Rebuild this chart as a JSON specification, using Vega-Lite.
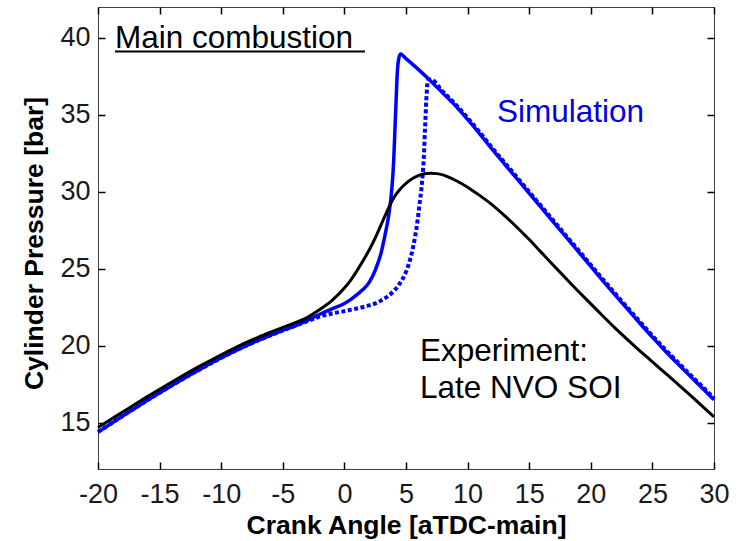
{
  "$schema": "https://vega.github.io/schema/vega-lite/v6.json",
  "width": 616,
  "height": 462,
  "autosize": "none",
  "padding": {"left": 98, "top": 7, "right": 27, "bottom": 72},
  "background": "white",
  "config": {
    "view": {"stroke": "#404040", "strokeWidth": 1},
    "font": "Liberation Sans",
    "axis": {"grid": false, "domain": false, "labelFlush": false, "labelOverlap": false, "labelFont": "Liberation Sans", "labelFontSize": 27, "labelColor": "#1a1a1a", "titleFont": "Liberation Sans", "titleFontSize": 26.5, "titleFontWeight": "bold", "titleColor": "#000000"}
  },
  "data": {
    "values": [
      {"angle": -20, "pressure": 14.7, "series": "experiment"},
      {"angle": -19, "pressure": 15.2, "series": "experiment"},
      {"angle": -18, "pressure": 15.7, "series": "experiment"},
      {"angle": -17, "pressure": 16.2, "series": "experiment"},
      {"angle": -16, "pressure": 16.7, "series": "experiment"},
      {"angle": -15, "pressure": 17.18, "series": "experiment"},
      {"angle": -14, "pressure": 17.65, "series": "experiment"},
      {"angle": -13, "pressure": 18.12, "series": "experiment"},
      {"angle": -12, "pressure": 18.57, "series": "experiment"},
      {"angle": -11, "pressure": 19.0, "series": "experiment"},
      {"angle": -10, "pressure": 19.42, "series": "experiment"},
      {"angle": -9, "pressure": 19.82, "series": "experiment"},
      {"angle": -8, "pressure": 20.2, "series": "experiment"},
      {"angle": -7, "pressure": 20.55, "series": "experiment"},
      {"angle": -6, "pressure": 20.88, "series": "experiment"},
      {"angle": -5, "pressure": 21.2, "series": "experiment"},
      {"angle": -4, "pressure": 21.5, "series": "experiment"},
      {"angle": -3, "pressure": 21.85, "series": "experiment"},
      {"angle": -2, "pressure": 22.35, "series": "experiment"},
      {"angle": -1, "pressure": 22.95, "series": "experiment"},
      {"angle": 0, "pressure": 23.75, "series": "experiment"},
      {"angle": 0.5, "pressure": 24.25, "series": "experiment"},
      {"angle": 1, "pressure": 24.85, "series": "experiment"},
      {"angle": 1.5, "pressure": 25.5, "series": "experiment"},
      {"angle": 2, "pressure": 26.2, "series": "experiment"},
      {"angle": 2.5, "pressure": 27.0, "series": "experiment"},
      {"angle": 3, "pressure": 27.9, "series": "experiment"},
      {"angle": 3.5, "pressure": 28.8, "series": "experiment"},
      {"angle": 4, "pressure": 29.6, "series": "experiment"},
      {"angle": 4.5, "pressure": 30.15, "series": "experiment"},
      {"angle": 5, "pressure": 30.55, "series": "experiment"},
      {"angle": 5.5, "pressure": 30.85, "series": "experiment"},
      {"angle": 6, "pressure": 31.05, "series": "experiment"},
      {"angle": 6.5, "pressure": 31.17, "series": "experiment"},
      {"angle": 7, "pressure": 31.2, "series": "experiment"},
      {"angle": 7.5, "pressure": 31.18, "series": "experiment"},
      {"angle": 8, "pressure": 31.1, "series": "experiment"},
      {"angle": 9, "pressure": 30.75, "series": "experiment"},
      {"angle": 10, "pressure": 30.3, "series": "experiment"},
      {"angle": 11, "pressure": 29.75, "series": "experiment"},
      {"angle": 12, "pressure": 29.15, "series": "experiment"},
      {"angle": 13, "pressure": 28.45, "series": "experiment"},
      {"angle": 14, "pressure": 27.7, "series": "experiment"},
      {"angle": 15, "pressure": 26.9, "series": "experiment"},
      {"angle": 16, "pressure": 26.05, "series": "experiment"},
      {"angle": 17, "pressure": 25.2, "series": "experiment"},
      {"angle": 18, "pressure": 24.36, "series": "experiment"},
      {"angle": 19, "pressure": 23.53, "series": "experiment"},
      {"angle": 20, "pressure": 22.72, "series": "experiment"},
      {"angle": 21, "pressure": 21.92, "series": "experiment"},
      {"angle": 22, "pressure": 21.13, "series": "experiment"},
      {"angle": 23, "pressure": 20.38, "series": "experiment"},
      {"angle": 24, "pressure": 19.66, "series": "experiment"},
      {"angle": 25, "pressure": 18.96, "series": "experiment"},
      {"angle": 26, "pressure": 18.26, "series": "experiment"},
      {"angle": 27, "pressure": 17.56, "series": "experiment"},
      {"angle": 28, "pressure": 16.85, "series": "experiment"},
      {"angle": 29, "pressure": 16.12, "series": "experiment"},
      {"angle": 30, "pressure": 15.38, "series": "experiment"},

      {"angle": -20, "pressure": 14.4, "series": "simulation_solid"},
      {"angle": -19, "pressure": 14.92, "series": "simulation_solid"},
      {"angle": -18, "pressure": 15.44, "series": "simulation_solid"},
      {"angle": -17, "pressure": 15.95, "series": "simulation_solid"},
      {"angle": -16, "pressure": 16.46, "series": "simulation_solid"},
      {"angle": -15, "pressure": 16.95, "series": "simulation_solid"},
      {"angle": -14, "pressure": 17.43, "series": "simulation_solid"},
      {"angle": -13, "pressure": 17.9, "series": "simulation_solid"},
      {"angle": -12, "pressure": 18.35, "series": "simulation_solid"},
      {"angle": -11, "pressure": 18.8, "series": "simulation_solid"},
      {"angle": -10, "pressure": 19.22, "series": "simulation_solid"},
      {"angle": -9, "pressure": 19.62, "series": "simulation_solid"},
      {"angle": -8, "pressure": 20.0, "series": "simulation_solid"},
      {"angle": -7, "pressure": 20.35, "series": "simulation_solid"},
      {"angle": -6, "pressure": 20.68, "series": "simulation_solid"},
      {"angle": -5, "pressure": 21.0, "series": "simulation_solid"},
      {"angle": -4, "pressure": 21.3, "series": "simulation_solid"},
      {"angle": -3, "pressure": 21.65, "series": "simulation_solid"},
      {"angle": -2, "pressure": 22.05, "series": "simulation_solid"},
      {"angle": -1, "pressure": 22.4, "series": "simulation_solid"},
      {"angle": 0, "pressure": 22.75, "series": "simulation_solid"},
      {"angle": 0.5, "pressure": 23.0, "series": "simulation_solid"},
      {"angle": 1, "pressure": 23.3, "series": "simulation_solid"},
      {"angle": 1.5, "pressure": 23.65, "series": "simulation_solid"},
      {"angle": 2, "pressure": 24.1, "series": "simulation_solid"},
      {"angle": 2.5, "pressure": 24.9, "series": "simulation_solid"},
      {"angle": 3, "pressure": 26.1, "series": "simulation_solid"},
      {"angle": 3.3, "pressure": 27.2, "series": "simulation_solid"},
      {"angle": 3.6, "pressure": 28.5, "series": "simulation_solid"},
      {"angle": 3.85, "pressure": 30.2, "series": "simulation_solid"},
      {"angle": 4.0, "pressure": 32.0, "series": "simulation_solid"},
      {"angle": 4.1, "pressure": 34.0, "series": "simulation_solid"},
      {"angle": 4.2, "pressure": 36.0, "series": "simulation_solid"},
      {"angle": 4.3, "pressure": 37.8, "series": "simulation_solid"},
      {"angle": 4.4, "pressure": 38.6, "series": "simulation_solid"},
      {"angle": 4.55, "pressure": 38.95, "series": "simulation_solid"},
      {"angle": 5, "pressure": 38.65, "series": "simulation_solid"},
      {"angle": 6, "pressure": 37.95, "series": "simulation_solid"},
      {"angle": 7, "pressure": 37.2, "series": "simulation_solid"},
      {"angle": 8, "pressure": 36.4, "series": "simulation_solid"},
      {"angle": 9, "pressure": 35.6, "series": "simulation_solid"},
      {"angle": 10, "pressure": 34.7, "series": "simulation_solid"},
      {"angle": 11, "pressure": 33.75, "series": "simulation_solid"},
      {"angle": 12, "pressure": 32.75, "series": "simulation_solid"},
      {"angle": 13, "pressure": 31.8, "series": "simulation_solid"},
      {"angle": 14, "pressure": 30.85, "series": "simulation_solid"},
      {"angle": 15, "pressure": 29.9, "series": "simulation_solid"},
      {"angle": 16, "pressure": 28.95, "series": "simulation_solid"},
      {"angle": 17, "pressure": 28.0, "series": "simulation_solid"},
      {"angle": 18, "pressure": 27.05, "series": "simulation_solid"},
      {"angle": 19, "pressure": 26.1, "series": "simulation_solid"},
      {"angle": 20, "pressure": 25.15, "series": "simulation_solid"},
      {"angle": 21, "pressure": 24.2, "series": "simulation_solid"},
      {"angle": 22, "pressure": 23.28, "series": "simulation_solid"},
      {"angle": 23, "pressure": 22.36, "series": "simulation_solid"},
      {"angle": 24, "pressure": 21.45, "series": "simulation_solid"},
      {"angle": 25, "pressure": 20.56, "series": "simulation_solid"},
      {"angle": 26, "pressure": 19.7, "series": "simulation_solid"},
      {"angle": 27, "pressure": 18.88, "series": "simulation_solid"},
      {"angle": 28, "pressure": 18.08, "series": "simulation_solid"},
      {"angle": 29, "pressure": 17.3, "series": "simulation_solid"},
      {"angle": 30, "pressure": 16.5, "series": "simulation_solid"},

      {"angle": -20, "pressure": 14.4, "series": "simulation_dotted"},
      {"angle": -18, "pressure": 15.44, "series": "simulation_dotted"},
      {"angle": -16, "pressure": 16.46, "series": "simulation_dotted"},
      {"angle": -14, "pressure": 17.43, "series": "simulation_dotted"},
      {"angle": -12, "pressure": 18.35, "series": "simulation_dotted"},
      {"angle": -10, "pressure": 19.22, "series": "simulation_dotted"},
      {"angle": -8, "pressure": 20.0, "series": "simulation_dotted"},
      {"angle": -6, "pressure": 20.68, "series": "simulation_dotted"},
      {"angle": -4, "pressure": 21.3, "series": "simulation_dotted"},
      {"angle": -3, "pressure": 21.6, "series": "simulation_dotted"},
      {"angle": -2, "pressure": 21.9, "series": "simulation_dotted"},
      {"angle": -1, "pressure": 22.1, "series": "simulation_dotted"},
      {"angle": 0, "pressure": 22.25, "series": "simulation_dotted"},
      {"angle": 1, "pressure": 22.42, "series": "simulation_dotted"},
      {"angle": 2, "pressure": 22.62, "series": "simulation_dotted"},
      {"angle": 2.6, "pressure": 22.78, "series": "simulation_dotted"},
      {"angle": 3, "pressure": 22.95, "series": "simulation_dotted"},
      {"angle": 3.5, "pressure": 23.2, "series": "simulation_dotted"},
      {"angle": 4, "pressure": 23.55, "series": "simulation_dotted"},
      {"angle": 4.5, "pressure": 24.05, "series": "simulation_dotted"},
      {"angle": 5, "pressure": 24.8, "series": "simulation_dotted"},
      {"angle": 5.3, "pressure": 25.5, "series": "simulation_dotted"},
      {"angle": 5.6, "pressure": 26.5, "series": "simulation_dotted"},
      {"angle": 5.9, "pressure": 27.9, "series": "simulation_dotted"},
      {"angle": 6.1, "pressure": 29.2, "series": "simulation_dotted"},
      {"angle": 6.3, "pressure": 30.6, "series": "simulation_dotted"},
      {"angle": 6.45, "pressure": 32.3, "series": "simulation_dotted"},
      {"angle": 6.55, "pressure": 34.2, "series": "simulation_dotted"},
      {"angle": 6.65, "pressure": 36.0, "series": "simulation_dotted"},
      {"angle": 6.75, "pressure": 37.1, "series": "simulation_dotted"},
      {"angle": 6.85, "pressure": 37.3, "series": "simulation_dotted"},
      {"angle": 7, "pressure": 37.3, "series": "simulation_dotted"},
      {"angle": 8, "pressure": 36.5, "series": "simulation_dotted"},
      {"angle": 9, "pressure": 35.7, "series": "simulation_dotted"},
      {"angle": 10, "pressure": 34.8, "series": "simulation_dotted"},
      {"angle": 11, "pressure": 33.85, "series": "simulation_dotted"},
      {"angle": 12, "pressure": 32.85, "series": "simulation_dotted"},
      {"angle": 13, "pressure": 31.9, "series": "simulation_dotted"},
      {"angle": 14, "pressure": 30.95, "series": "simulation_dotted"},
      {"angle": 15, "pressure": 30.0, "series": "simulation_dotted"},
      {"angle": 16, "pressure": 29.05, "series": "simulation_dotted"},
      {"angle": 17, "pressure": 28.1, "series": "simulation_dotted"},
      {"angle": 18, "pressure": 27.15, "series": "simulation_dotted"},
      {"angle": 19, "pressure": 26.2, "series": "simulation_dotted"},
      {"angle": 20, "pressure": 25.25, "series": "simulation_dotted"},
      {"angle": 21, "pressure": 24.3, "series": "simulation_dotted"},
      {"angle": 22, "pressure": 23.38, "series": "simulation_dotted"},
      {"angle": 23, "pressure": 22.46, "series": "simulation_dotted"},
      {"angle": 24, "pressure": 21.55, "series": "simulation_dotted"},
      {"angle": 25, "pressure": 20.66, "series": "simulation_dotted"},
      {"angle": 26, "pressure": 19.8, "series": "simulation_dotted"},
      {"angle": 27, "pressure": 18.98, "series": "simulation_dotted"},
      {"angle": 28, "pressure": 18.18, "series": "simulation_dotted"},
      {"angle": 29, "pressure": 17.4, "series": "simulation_dotted"},
      {"angle": 30, "pressure": 16.6, "series": "simulation_dotted"}
    ]
  },
  "resolve": {"axis": {"x": "independent", "y": "independent"}},
  "layer": [
    {
      "transform": [{"filter": "datum.series === 'simulation_solid'"}],
      "mark": {"type": "line", "color": "#0000ff", "strokeWidth": 3.5, "interpolate": "monotone"},
      "encoding": {
        "x": {"field": "angle", "type": "quantitative", "scale": {"domain": [-20, 30], "nice": false},
              "axis": {"orient": "bottom", "offset": -7, "ticks": true, "tickColor": "#000000", "tickWidth": 1.5, "tickSize": 7, "values": [-20, -15, -10, -5, 0, 5, 10, 15, 20, 25, 30], "labelExpr": "toString(datum.value)", "labelPadding": 12, "title": "Crank Angle [aTDC-main]", "titleBaseline": "alphabetic", "titleY": 71}},
        "y": {"field": "pressure", "type": "quantitative", "scale": {"domain": [12, 42], "nice": false, "zero": false},
              "axis": {"orient": "left", "offset": -7, "ticks": true, "tickColor": "#000000", "tickWidth": 1.5, "tickSize": 7, "values": [15, 20, 25, 30, 35, 40], "labelPadding": 8, "title": "Cylinder Pressure [bar]", "titleBaseline": "alphabetic", "titleX": -63, "titleY": 236}}
      }
    },
    {
      "transform": [{"filter": "datum.series === 'simulation_dotted'"}],
      "mark": {"type": "line", "color": "#0000ff", "strokeWidth": 4, "strokeDash": [4, 2.5], "interpolate": "monotone"},
      "encoding": {
        "x": {"field": "angle", "type": "quantitative",
              "axis": {"orient": "top", "offset": -7, "ticks": true, "tickColor": "#000000", "tickWidth": 1.5, "tickSize": 7, "values": [-20, -15, -10, -5, 0, 5, 10, 15, 20, 25, 30], "labels": false, "title": null}},
        "y": {"field": "pressure", "type": "quantitative",
              "axis": {"orient": "right", "offset": -7, "ticks": true, "tickColor": "#000000", "tickWidth": 1.5, "tickSize": 7, "values": [15, 20, 25, 30, 35, 40], "labels": false, "title": null}}
      }
    },
    {
      "transform": [{"filter": "datum.series === 'experiment'"}],
      "mark": {"type": "line", "color": "#000000", "strokeWidth": 3, "interpolate": "monotone"},
      "encoding": {
        "x": {"field": "angle", "type": "quantitative", "axis": null},
        "y": {"field": "pressure", "type": "quantitative", "axis": null}
      }
    },
    {
      "data": {"values": [{"start": -18.62, "end": 1.67, "pressure": 39.11}]},
      "mark": {"type": "rule", "color": "#000000", "strokeWidth": 2},
      "encoding": {
        "x": {"field": "start", "type": "quantitative", "axis": null},
        "x2": {"field": "end"},
        "y": {"field": "pressure", "type": "quantitative", "axis": null}
      }
    },
    {
      "data": {"values": [
        {"text": "Main combustion", "angle": -18.62, "pressure": 39.37, "kind": "black"},
        {"text": "Simulation", "angle": 12.39, "pressure": 34.51, "kind": "blue"},
        {"text": "Experiment:", "angle": 6.14, "pressure": 19.0, "kind": "black"},
        {"text": "Late NVO SOI", "angle": 6.14, "pressure": 16.62, "kind": "black"}
      ]},
      "mark": {"type": "text", "align": "left", "baseline": "alphabetic", "fontSize": 31.5, "font": "Liberation Sans"},
      "encoding": {
        "x": {"field": "angle", "type": "quantitative", "axis": null},
        "y": {"field": "pressure", "type": "quantitative", "axis": null},
        "text": {"field": "text"},
        "color": {"field": "kind", "type": "nominal", "scale": {"domain": ["black", "blue"], "range": ["#000000", "#0000e6"]}, "legend": null}
      }
    }
  ]
}
